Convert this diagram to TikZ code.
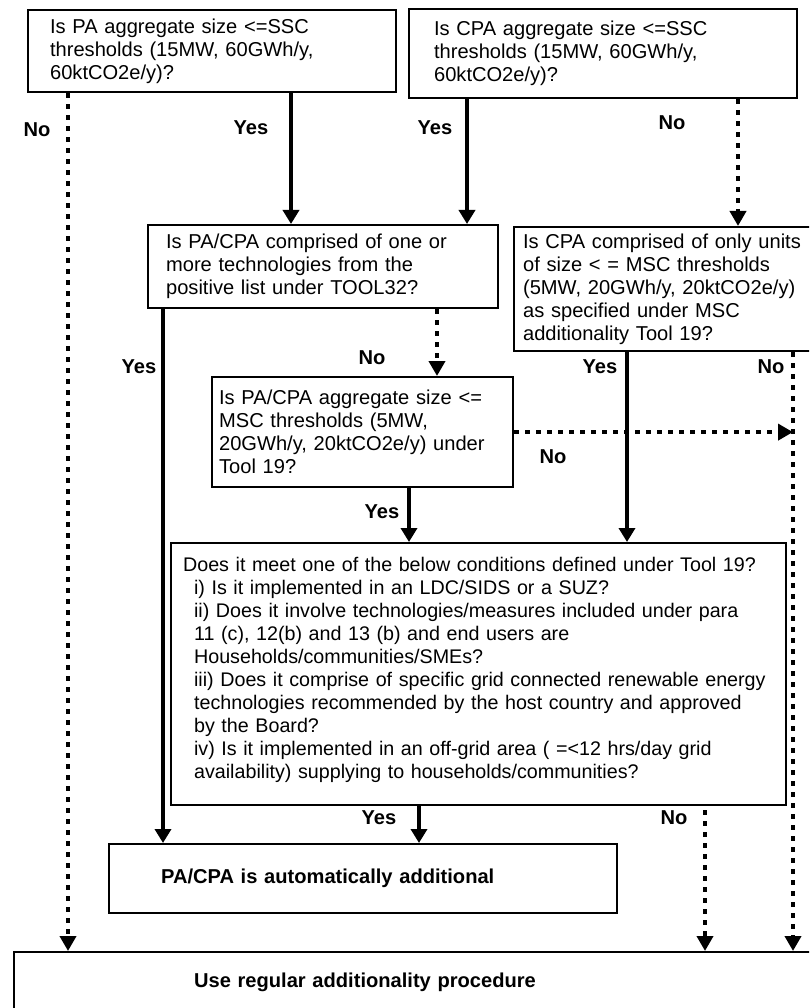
\documentclass[tikz,border=0pt]{standalone}
\usepackage{fontspec}
\setmainfont{Liberation Sans}
\usetikzlibrary{arrows.meta,positioning}

\hyphenpenalty=10000
\exhyphenpenalty=10000
\hfuzz=20pt
\newcommand{\condindent}{\hspace*{11pt}}

\begin{document}
\begin{tikzpicture}
  [
    x=1pt, y=-1pt,
    every node/.style={font=\fontsize{20.1pt}{23pt}\selectfont},
    Box/.style={draw=black, line width=2.2pt, anchor=north west, align=left, inner ysep=0pt},
    Lbl/.style={font=\fontsize{20.1pt}{23pt}\selectfont\bfseries, inner sep=0pt},
    YesLine/.style={draw, line width=4.5pt, -{Triangle[width=16pt,length=14pt]}},
    NoLine/.style={draw, line width=4.5pt, dash pattern=on 5pt off 6pt, -{Triangle[width=16pt,length=15pt]}}
  ]
  % Frame
  \useasboundingbox (0,0) rectangle (809,1008);
  \clip (0,0) rectangle (809,1008);
  \fill[white] (0,0) rectangle (809,1008);

  % Nodes
  \node[Box, inner xsep=22pt, text width=324pt, minimum height=82pt] (pa) at (27,9)
    {Is PA aggregate size <=SSC\\thresholds (15MW, 60GWh/y,\\60ktCO2e/y)?};

  \node[Box, inner xsep=25pt, text width=338pt, minimum height=89pt] (cpa) at (408,8)
    {Is CPA aggregate size <=SSC\\thresholds (15MW, 60GWh/y,\\60ktCO2e/y)?};

  \node[Box, inner xsep=18pt, text width=314pt, minimum height=83pt] (pacpa) at (147,224)
    {Is PA/CPA comprised of one or\\more technologies from the\\positive list under TOOL32?};

  \node[Box, inner xsep=9pt, text width=292pt, minimum height=124pt] (unit) at (513,226)
    {Is CPA comprised of only units\\of size < = MSC thresholds\\(5MW, 20GWh/y, 20ktCO2e/y)\\as specified under MSC\\additionality Tool 19?};

  \node[Box, inner xsep=7pt, text width=287pt, minimum height=110pt] (msc) at (211,376)
    {Is PA/CPA aggregate size <=\\MSC thresholds (5MW,\\20GWh/y, 20ktCO2e/y) under\\Tool 19?};

  \node[Box, inner xsep=12pt, text width=591pt, minimum height=262pt, font=\fontsize{19.7pt}{23pt}\selectfont] (cond) at (170,542)
    {Does it meet one of the below conditions defined under Tool 19?\\%
     \condindent i) Is it implemented in an LDC/SIDS or a SUZ?\\%
     \condindent ii) Does it involve technologies/measures included under para\\%
     \condindent 11 (c), 12(b) and 13 (b) and end users are\\%
     \condindent Households/communities/SMEs?\\%
     \condindent\mbox{iii) Does it comprise of specific grid connected renewable energy}\\%
     \condindent technologies recommended by the host country and approved\\%
     \condindent by the Board?\\%
     \condindent iv) Is it implemented in an off-grid area ( =<12 hrs/day grid\\%
     \condindent availability) supplying to households/communities?\\[-11pt]\mbox{}};

  \node[Box, inner xsep=52pt, text width=404pt, minimum height=69pt, font=\fontsize{20.1pt}{23pt}\selectfont\bfseries] (auto) at (108,843)
    {PA/CPA is automatically additional};

  \node[Box, inner xsep=180pt, text width=460pt, minimum height=60pt, font=\fontsize{20.1pt}{23pt}\selectfont\bfseries] (reg) at (13,951)
    {Use regular additionality procedure};

  % Connector columns
  \coordinate (xa) at (68,0);
  \coordinate (xb) at (291,0);
  \coordinate (xc) at (467,0);
  \coordinate (xd) at (738,0);
  \coordinate (xe) at (163,0);
  \coordinate (xf) at (437,0);
  \coordinate (xg) at (409,0);
  \coordinate (xh) at (627,0);
  \coordinate (xi) at (793,0);
  \coordinate (xj) at (419,0);
  \coordinate (xk) at (705,0);

  % Lines
  \path [YesLine] (pa.south -| xb) -- (pacpa.north -| xb);
  \path [YesLine] (cpa.south -| xc) -- (pacpa.north -| xc);
  \path [YesLine] (pacpa.south -| xe) -- (auto.north -| xe);
  \path [YesLine] (msc.south -| xg) -- (cond.north -| xg);
  \path [YesLine] (unit.south -| xh) -- (cond.north -| xh);
  \path [YesLine] (cond.south -| xj) -- (auto.north -| xj);

  \path [NoLine] (pa.south -| xa) -- (reg.north -| xa);
  \path [NoLine] (cpa.south -| xd) -- (unit.north -| xd);
  \path [NoLine] (pacpa.south -| xf) -- (msc.north -| xf);
  \path [NoLine] (msc.east) -- (msc.east -| xi);
  \path [NoLine] (unit.south -| xi) -- (reg.north -| xi);
  \path [NoLine] ([yshift=-4pt]cond.south -| xk) -- (reg.north -| xk);

  % Labels
  \node[Lbl] (l1) at (37,130) {No};
  \node[Lbl] (l2) at (251,128) {Yes};
  \node[Lbl] (l3) at (435,128) {Yes};
  \node[Lbl] (l4) at (672,123) {No};
  \node[Lbl] (l5) at (139,367) {Yes};
  \node[Lbl] (l6) at (372,358) {No};
  \node[Lbl] (l7) at (600,367) {Yes};
  \node[Lbl] (l8) at (771,367) {No};
  \node[Lbl] (l9) at (553,457) {No};
  \node[Lbl] (l10) at (382,512) {Yes};
  \node[Lbl] (l11) at (379,818) {Yes};
  \node[Lbl] (l12) at (674,818) {No};

\end{tikzpicture}
\end{document}
